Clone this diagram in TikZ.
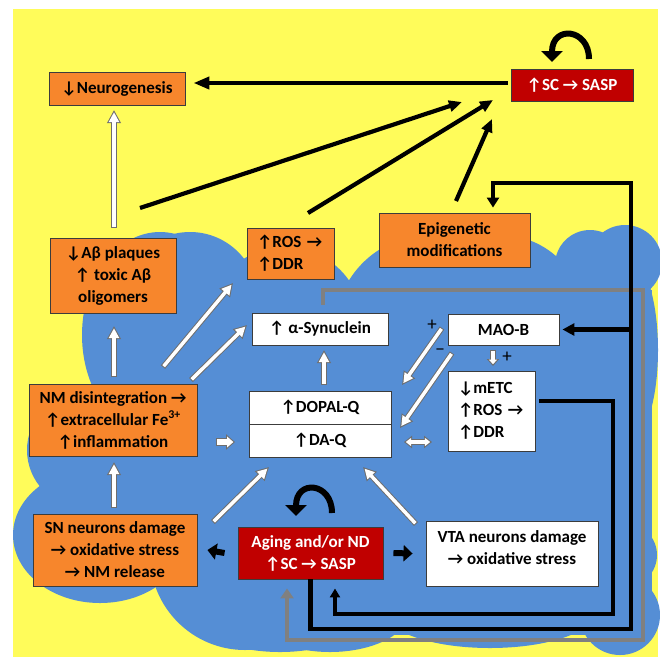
\documentclass[tikz,border=0pt]{standalone}
\usepackage{fontspec}
\setmainfont{Carlito}
\usetikzlibrary{arrows.meta,calc}
\definecolor{yel}{RGB}{255,252,90}
\definecolor{blu}{RGB}{85,142,213}
\definecolor{org}{RGB}{247,134,44}
\definecolor{dred}{RGB}{192,0,0}
\definecolor{bord}{RGB}{60,60,60}
\definecolor{wgray}{RGB}{110,110,110}
\definecolor{lgray}{RGB}{128,128,128}
\tikzset{
  box/.style={draw=bord, line width=0.9pt, inner sep=0pt, align=center,
    font=\fontsize{17}{22}\selectfont\bfseries},
  obox/.style={box, fill=org, text=black},
  wbox/.style={box, fill=white, text=black},
  rbox/.style={box, fill=dred, text=white},
  lbox/.style={align=left, inner xsep=10pt, text width=67pt},
  boxtext/.style={inner sep=0pt, align=center, font=\fontsize{17}{22}\selectfont\bfseries},
  sign/.style={inner sep=0pt, font=\fontsize{19}{19}\selectfont},
  blk/.style={line width=4.2pt, black},
  blkhead/.style={-{Triangle[length=13pt,width=11pt]}},
  gry/.style={line width=4pt, lgray},
  wo/.style={line width=5.5pt, draw=wgray, -{Triangle[length=13pt,width=13pt]}},
  wi/.style={line width=3.5pt, draw=white, shorten <=1pt, shorten >=2.2pt,
    -{Triangle[length=9.8pt,width=9.8pt]}},
  curv/.style={line width=6pt, black, -{Triangle[length=11pt,width=21pt]}},
}
\newcommand\warrow[2]{%
  \draw[wo] #1 -- #2;
  \draw[wi] #1 -- #2;}
\begin{document}
\begin{tikzpicture}[x=1pt,y=-1pt]
\useasboundingbox (0,0) rectangle (660,657);
\fill[white] (0,0) rectangle (660,657);
\fill[yel] (13,9) rectangle (658,657);
% cloud
\fill[blu] (95,290) rectangle (652,560);
\fill[blu] (200,560) rectangle (652,635);
\fill[blu] (160,335) ellipse [x radius=78, y radius=103];
\fill[blu] (190,300) circle [radius=68];
\fill[blu] (85,450) circle [radius=58];
\fill[blu] (100,535) ellipse [x radius=87, y radius=68];
\fill[blu] (245,555) circle [radius=95];
\fill[blu] (280,570) ellipse [x radius=125, y radius=82];
\fill[blu] (330,610) ellipse [x radius=80, y radius=42];
\fill[blu] (490,612) ellipse [x radius=105, y radius=36];
\fill[blu] (620,615) circle [radius=40];
\fill[blu] (630,350) ellipse [x radius=28, y radius=90];
\fill[blu] (625,555) circle [radius=32];
\fill[blu] (285,325) circle [radius=78];
\fill[blu] (430,330) circle [radius=95];
\fill[blu] (500,320) circle [radius=85];
\fill[blu] (590,265) circle [radius=35];
\fill[blu] (625,262) circle [radius=37];

% boxes
\node[obox, minimum width=136pt, minimum height=33pt] (neuro) at (117,88.5) {↓Neurogenesis};
\node[rbox, minimum width=122pt, minimum height=32pt] (sctop) at (572,85) {↑SC → SASP};
\node[obox, minimum width=126pt, minimum height=75pt] (abeta) at (113,275.5) {↓Aβ plaques\\↑ toxic Aβ\\oligomers};
\node[obox, lbox, minimum height=51pt] (ros) at (290.5,253.5) {↑ROS →\\↑DDR};
\node[obox, minimum width=151pt, minimum height=54pt] (epi) at (454.5,240) {Epigenetic\\modifications};
\node[obox, minimum width=168pt, minimum height=72pt] (nm) at (113,420) {NM disintegration →\\↑extracellular Fe\textsuperscript{3+}\\↑inflammation};
\node[wbox, minimum width=136pt, minimum height=32pt] (asyn) at (320,329) {↑ α-Synuclein};
\node[wbox, minimum width=142pt, minimum height=33pt] (dopal) at (320,407.5) {↑DOPAL-Q};
\node[wbox, minimum width=142pt, minimum height=33pt] (daq) at (320,440.5) {↑DA-Q};
\node[wbox, minimum width=111pt, minimum height=31pt] (maob) at (503.5,329.5) {MAO-B};
\node[wbox, lbox, minimum height=80pt] (metc) at (491.5,411) {↓mETC\\↑ROS →\\↑DDR};
\node[obox, minimum width=164pt, minimum height=72pt] (sn) at (115,550) {SN neurons damage\\→ oxidative stress\\→ NM release};
\node[rbox, minimum width=145pt, minimum height=52pt] (aging) at (310.5,553) {Aging and/or ND\\↑SC → SASP};
\node[wbox, minimum width=172pt, minimum height=65pt] (vta) at (512,553.5) {};
\node[boxtext] (vtatext) at (512,547.5) {VTA neurons damage\\→ oxidative stress};

% signs
\node[sign] (s1) at (432,325) {+};
\node[sign] (s2) at (440,352) {−};
\node[sign] (s3) at (507,357) {+};

% gray loop
\draw[gry, -{Triangle[length=10pt,width=13pt]}, shorten >=9pt]
  ($(asyn.north)+(3,-8)$) |- (643,290) |- (287,640) -- ($(aging.south)+(-23.5,0)$);
% inner black loop
\draw[blk, -{Triangle[length=9pt,width=10pt]}, shorten >=9pt]
  ($(metc.east)+(4,-10)$) -| (613,614) -| ($(aging.south)+(24.5,0)$);
% outer black loop
\coordinate (oc1) at (631,629);
\coordinate (oc2) at (631,183);
\draw[blk, -{Triangle[length=10pt,width=12pt]}, shorten >=5pt]
  (aging.south) |- (oc1) -- (oc2) -| ($(epi.north)+(38.5,0)$);
\draw[blk, -{Triangle[length=12pt,width=12pt]}, shorten >=3pt]
  (maob.east -| oc1) -- (maob.east);

% top black arrows
\draw[blk, -{Triangle[length=16pt,width=12pt]}, shorten >=8pt, shorten <=3pt]
  ($(sctop.west)+(0,-2)$) -- ($(sctop.west -| neuro.east)+(0,-2)$);
\coordinate (l1a) at (140,208); \coordinate (l1b) at (462,102);
\coordinate (l2a) at (308,213); \coordinate (l2b) at (493,100);
\coordinate (l3a) at (456,201); \coordinate (l3b) at (492,119);
\draw[blk, blkhead] (l1a) -- (l1b);
\draw[blk, blkhead] (l2a) -- (l2b);
\draw[blk, blkhead] (l3a) -- (l3b);

% curved arrows
\draw[curv] (589,59) .. controls (589,28) and (552,25) .. (552,62);
\draw[curv] (332,513) .. controls (332,482) and (296,479) .. (296,516);

% small black block arrows
\draw[line width=6pt, -{Triangle[length=9pt,width=16pt]}] ($(aging.west)+(-13,0)$) -- ($(sn.east)+(10,0)$);
\draw[line width=6pt, -{Triangle[length=9pt,width=16pt]}] ($(aging.east)+(10,0)$) -- ($(vta.west)+(-13,0)$);

% white arrows
\coordinate (w1a) at (114,228); \coordinate (w1b) at (114,110);
\coordinate (w2a) at (114,377); \coordinate (w2b) at (114,326);
\coordinate (w3a) at (163,367); \coordinate (w3b) at (233,283);
\coordinate (w4a) at (191,380); \coordinate (w4b) at (247,325);
\coordinate (w5a) at (324,385); \coordinate (w5b) at (324,350);
\coordinate (w6a) at (114,508); \coordinate (w6b) at (114,462);
\coordinate (w7a) at (213,522); \coordinate (w7b) at (269,467);
\coordinate (w8a) at (416,524); \coordinate (w8b) at (363,467);
\coordinate (w9a) at (442,328); \coordinate (w9b) at (402,385);
\coordinate (w10a) at (452,353); \coordinate (w10b) at (400,428);
\warrow{(w1a)}{(w1b)}
\warrow{(w2a)}{(w2b)}
\warrow{(w3a)}{(w3b)}
\warrow{(w4a)}{(w4b)}
\warrow{(w5a)}{(w5b)}
\warrow{(w6a)}{(w6b)}
\warrow{(w7a)}{(w7b)}
\warrow{(w8a)}{(w8b)}
\warrow{(w9a)}{(w9b)}
\warrow{(w10a)}{(w10b)}
% block white arrow nm -> daq
\draw[line width=7.5pt, wgray, -{Triangle[length=9pt,width=15pt]}] (216,442) -- (235,442);
\draw[line width=5.5pt, white, shorten <=1pt, shorten >=1.6pt, -{Triangle[length=6.4pt,width=10.7pt]}] (216,442) -- (235,442);
% double arrow daq <-> metc
\draw[line width=5.5pt, wgray, {Triangle[length=8pt,width=12pt]}-{Triangle[length=8pt,width=12pt]}] (404,442) -- (432,442);
\draw[line width=3.5pt, white, shorten <=1.8pt, shorten >=1.8pt, {Triangle[length=5.3pt,width=8pt]}-{Triangle[length=5.3pt,width=8pt]}] (404,442) -- (432,442);
% maob -> metc small
\draw[line width=5.5pt, wgray, -{Triangle[length=7pt,width=12pt]}] (493,350) -- (493,366);
\draw[line width=3.5pt, white, shorten <=1pt, shorten >=1.8pt, -{Triangle[length=4.5pt,width=7.8pt]}] (493,350) -- (493,366);
\end{tikzpicture}
\end{document}
